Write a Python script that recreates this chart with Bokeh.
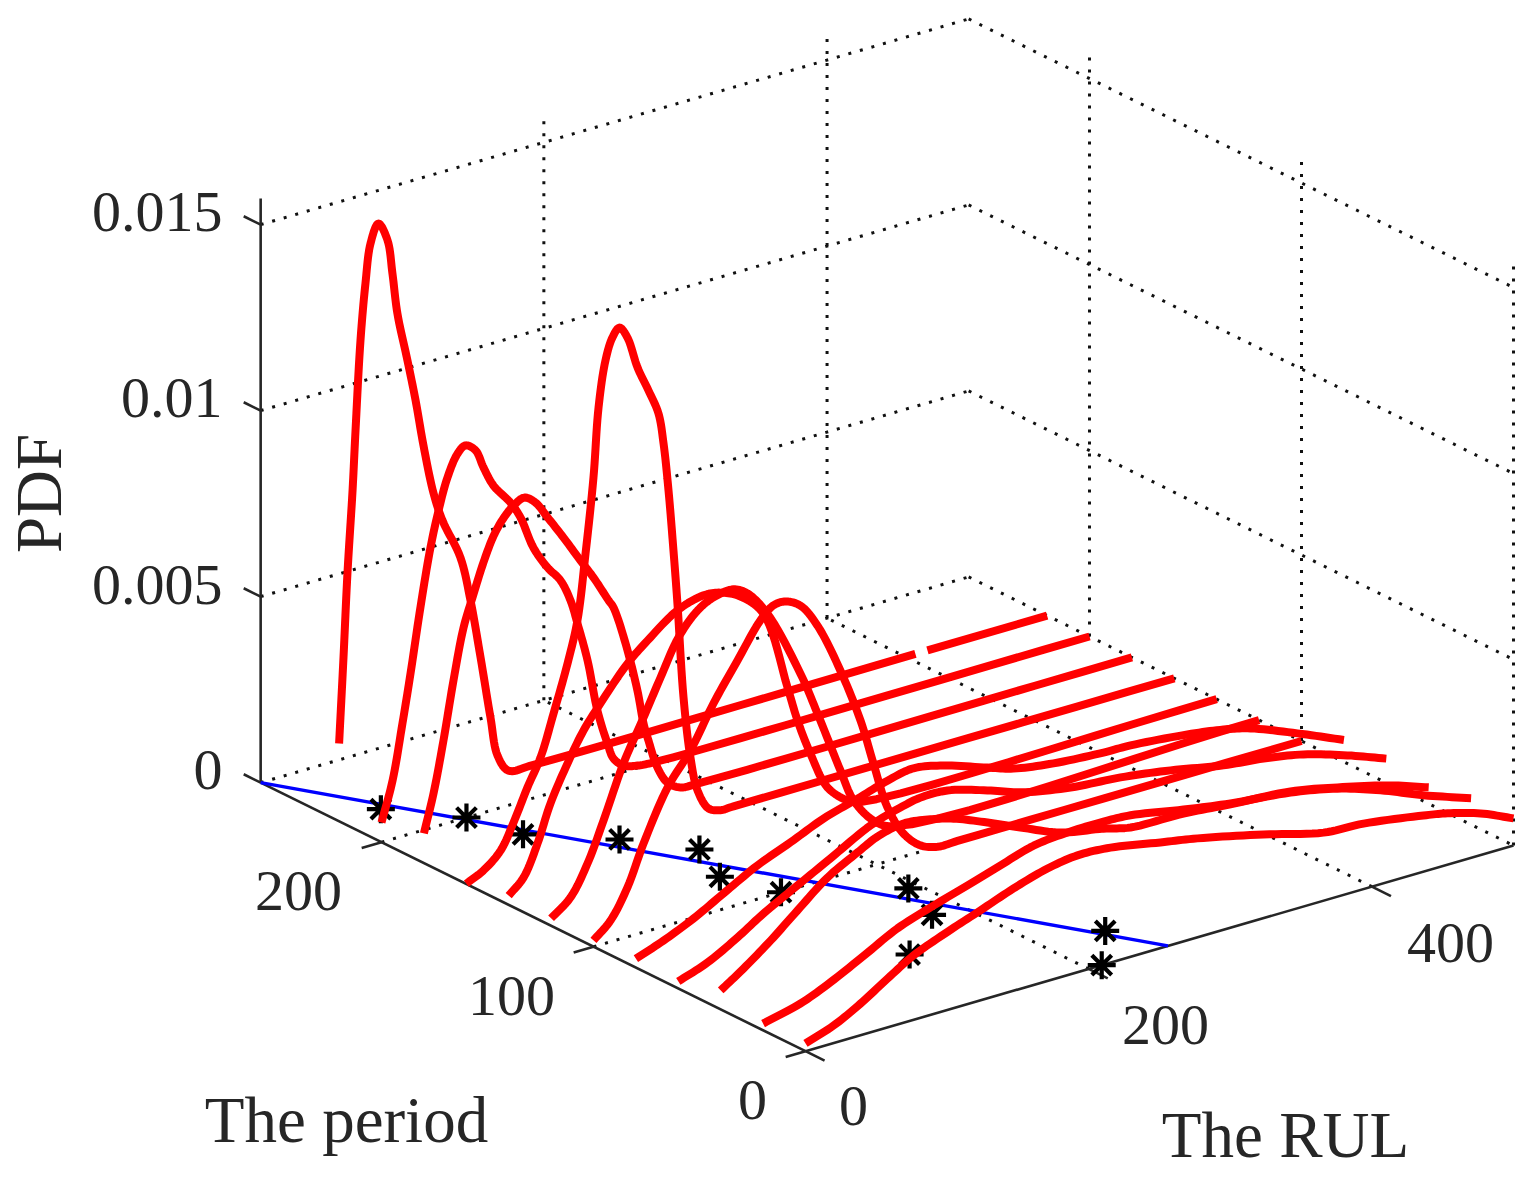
import numpy as np
from bokeh.plotting import figure
from bokeh.models import Range1d
from bokeh.core.properties import value
from bokeh.embed import file_html
from bokeh.resources import INLINE

# ---------- data (PDF values are given in units of 1e-3) ----------
periods = [220, 200, 180, 160, 140, 120, 100, 80, 60, 40, 20, 0]

rul_220 = [0, 3.1, 5.9, 9.5, 11.6, 15.1, 18.6, 22.2, 27.8, 34.2, 37.7, 41.2, 48.3, 54, 59.6, 66.7, 73, 85.7, 92.8, 99.9, 106.9, 111.9, 119.6, 137.3, 407, float("nan"), 415.5, 500]
pdf_220 = [2.09, 4.37, 6.60, 8.79, 10.38, 12.76, 14.25, 15.29, 15.76, 15.24, 14.3, 13.19, 11.85, 10.72, 9.44, 8.08, 7.28, 6.14, 4.91, 3.30, 1.61, 0.53, 0.04, 0, 0, float("nan"), 0, 0]

rul_200 = [0, 7.8, 14.8, 20.5, 27.5, 34.6, 40.3, 46.6, 53.7, 59.3, 66.4, 72, 79.1, 91.1, 98.2, 107.3, 117.2, 126.4, 133.5, 138.4, 145.5, 152.5, 159.6, 163.8, 170.9, 180.8, 192.1, 500]
pdf_200 = [0.53, 1.57, 3.03, 4.31, 6.01, 7.54, 8.47, 9.29, 9.85, 10.01, 9.80, 9.28, 8.71, 8.12, 7.64, 6.73, 6.09, 5.64, 5.02, 4.35, 3.28, 1.85, 0.89, 0.44, 0.17, 0.06, 0.02, 0]

rul_180 = [0, 6.8, 13.8, 20.9, 28, 34.3, 42.1, 49.2, 56.2, 63.3, 71, 78.8, 87.3, 98.6, 110.6, 119.8, 130.4, 133.9, 142.4, 150.8, 155.1, 158.6, 165, 172, 181.2, 193.2, 500]
pdf_180 = [0.80, 1.80, 3.14, 4.68, 6.02, 6.76, 7.62, 8.25, 8.65, 8.91, 9.04, 8.82, 8.33, 7.66, 6.91, 6.35, 5.62, 5.39, 4.33, 2.97, 2.04, 1.54, 0.74, 0.26, 0.03, 0, 0]

rul_160 = [0, 12.1, 24.2, 33.3, 43.2, 52.4, 61.6, 71.5, 78.5, 84.2, 89.8, 93.4, 98.3, 103.2, 108.2, 113.8, 120.9, 128.7, 135.7, 139.3, 142.8, 146.3, 149.2, 153.4, 158.3, 163.3, 171, 179.5, 188.7, 500]
pdf_160 = [0.01, 0.23, 0.63, 1.28, 2.12, 2.82, 3.90, 5.14, 6.22, 7.95, 9.93, 11.78, 12.99, 13.55, 13.76, 13.43, 12.55, 11.84, 11.15, 10.30, 9.0, 7.35, 5.84, 3.32, 1.65, 0.71, 0.14, 0, 0, 0]

rul_140 = [0, 10.5, 20.3, 29.5, 41.5, 52.8, 64.8, 83.9, 98, 119.2, 137.6, 149.6, 163.7, 179.9, 196.9, 204, 213.1, 225.1, 239.3, 248.4, 500]
pdf_140 = [0.25, 0.62, 1.42, 2.40, 3.34, 4.10, 4.70, 5.56, 6.02, 6.60, 6.80, 6.74, 6.48, 5.84, 3.67, 2.70, 1.71, 0.67, 0.16, 0.02, 0]

rul_120 = [0, 13.7, 25.7, 37, 51.1, 65.3, 77.3, 90, 103.4, 114.7, 128.8, 138.7, 152.8, 176.1, 188.1, 204.4, 213.6, 227.7, 241.8, 500]
pdf_120 = [0.20, 0.61, 1.39, 2.42, 3.80, 4.88, 5.82, 6.76, 7.33, 7.56, 7.62, 7.40, 6.70, 4.83, 3.63, 1.91, 1.01, 0.31, 0, 0]

rul_100 = [0, 12, 24, 35.3, 52.3, 68.5, 84.7, 101.7, 117.9, 127.1, 135.6, 146.2, 158.2, 174.4, 188.6, 197.7, 207.6, 218.9, 230.9, 242.9, 257.1, 500]
pdf_100 = [0.17, 0.57, 1.33, 2.38, 3.70, 4.52, 5.60, 6.57, 7.47, 7.77, 7.78, 7.55, 6.88, 5.49, 3.99, 2.74, 1.45, 0.62, 0.17, 0, 0, 0]

rul_80 = [0, 19.5, 40.7, 61.9, 85.9, 109.2, 132.5, 156.5, 177.7, 196, 217.2, 248.3, 266.7, 294.9, 330.2, 349.3, 389.5, 415, 434, 467.2, 500]
pdf_80 = [0.24, 0.51, 0.87, 1.31, 1.80, 2.16, 2.54, 2.81, 3.06, 3.19, 3.03, 2.63, 2.40, 2.23, 2.13, 2.11, 1.96, 1.81, 1.63, 1.13, 0.59]

rul_60 = [0, 20.6, 41.8, 60.2, 84.2, 107.5, 135.7, 156.9, 171, 190.1, 218.4, 241.7, 277, 312.3, 347.6, 385, 413.3, 441.5, 472.6, 500]
pdf_60 = [0.19, 0.47, 0.91, 1.35, 1.84, 2.31, 2.88, 3.13, 3.24, 3.22, 2.91, 2.60, 2.34, 2.22, 2.02, 1.74, 1.61, 1.41, 1.04, 0.65]

rul_40 = [0, 16.1, 35.2, 54.2, 75.4, 96.6, 110.7, 129.1, 148.2, 164.4, 188.4, 211.7, 240, 270.3, 289.4, 326.8, 360, 402.4, 435.6, 473, 500]
pdf_40 = [0.51, 0.92, 1.46, 2.06, 2.71, 3.15, 3.42, 3.57, 3.47, 3.31, 2.94, 2.55, 2.10, 1.87, 1.69, 1.65, 1.53, 1.41, 1.15, 0.79, 0.44]

rul_20 = [0, 26.4, 42.7, 68.8, 94.9, 120.3, 144.4, 167.7, 191, 215, 240.4, 259.5, 296.9, 330.1, 372.5, 405.6, 436, 466.4, 500]
pdf_20 = [0.18, 0.43, 0.68, 1.17, 1.69, 2.02, 2.30, 2.58, 2.85, 2.94, 2.95, 2.91, 2.65, 2.45, 2.27, 2.01, 1.63, 1.16, 0.71]

rul_0 = [0, 19.8, 38.8, 57.9, 76.3, 100.3, 123.6, 146.9, 170.9, 192.1, 215.4, 250.7, 276.8, 323.4, 365.8, 394.1, 436.4, 453.4, 476.7, 500]
pdf_0 = [0.21, 0.47, 0.85, 1.31, 1.73, 2.10, 2.42, 2.75, 3.02, 3.14, 3.09, 2.84, 2.66, 2.25, 1.83, 1.76, 1.51, 1.38, 1.12, 0.73]

star_period = [220, 200, 180, 160, 140, 120, 100, 80, 60, 40, 20, 0]
star_rul = [29.5, 60, 70, 108.2, 134.7, 119.2, 132.4, 192.4, 179.2, 133.4, 241.6, 209.2]

true_period = [257, 0]
true_rul = [0, 256]

period_ticks = [0, 100, 200]
rul_ticks = [0, 200, 400]
pdf_ticks = [0, 0.005, 0.01, 0.015]
period_tick_labels = ["0", "100", "200"]
rul_tick_labels = ["0", "200", "400"]
pdf_tick_labels = ["0", "0.005", "0.01", "0.015"]

curves = {
    220: (rul_220, pdf_220), 200: (rul_200, pdf_200), 180: (rul_180, pdf_180),
    160: (rul_160, pdf_160), 140: (rul_140, pdf_140), 120: (rul_120, pdf_120),
    100: (rul_100, pdf_100), 80: (rul_80, pdf_80), 60: (rul_60, pdf_60),
    40: (rul_40, pdf_40), 20: (rul_20, pdf_20), 0: (rul_0, pdf_0),
}

# ---------- axis box ----------
PERIOD_MAX, RUL_MAX, PDF_MAX = 257, 500, 0.0157


def project(period, rul, pdf):
    """Orthographic view of the 3-D box, in page pixels."""
    period = np.asarray(period, float)
    rul = np.asarray(rul, float)
    pdf = np.asarray(pdf, float)
    return (805 + 1.416 * rul - 2.12 * period,
            1050.7 - 0.4114 * rul - 1.045 * period - 37200 * pdf)


def smooth(x, y, n=10):
    """Centripetal Catmull-Rom drawing path through the read points."""
    pts = np.column_stack([x, y])
    if len(pts) < 3:
        return pts[:, 0], pts[:, 1]
    pad = np.vstack([2 * pts[0] - pts[1], pts, 2 * pts[-1] - pts[-2]])
    out = [pts[:1]]
    for i in range(1, len(pad) - 2):
        p0, p1, p2, p3 = pad[i - 1], pad[i], pad[i + 1], pad[i + 2]
        t1 = np.linalg.norm(p1 - p0) ** 0.5
        t2 = t1 + max(np.linalg.norm(p2 - p1) ** 0.5, 1e-6)
        t3 = t2 + np.linalg.norm(p3 - p2) ** 0.5
        t = np.linspace(t1, t2, n + 1)[1:, None]
        a1 = ((t1 - t) * p0 + t * p1) / t1 if t1 > 0 else p1 + 0 * t
        a2 = ((t2 - t) * p1 + (t - t1) * p2) / (t2 - t1)
        a3 = ((t3 - t) * p2 + (t - t2) * p3) / (t3 - t2) if t3 > t2 else p2 + 0 * t
        b1 = ((t2 - t) * a1 + (t - 0) * a2) / t2
        b2 = ((t3 - t) * a2 + (t - t1) * a3) / (t3 - t1)
        out.append(((t2 - t) * b1 + (t - t1) * b2) / (t2 - t1))
    res = np.vstack(out)
    return res[:, 0], res[:, 1]


p = figure(width=1520, height=1173, output_backend="svg", toolbar_location=None,
           x_range=Range1d(0, 1520), y_range=Range1d(1173, 0),
           min_border=0, outline_line_color=None, background_fill_color="white")
p.xaxis.visible = False
p.yaxis.visible = False
p.xgrid.visible = False
p.ygrid.visible = False


def seg(p0, p1, **kw):
    x0, y0 = project(*p0)
    x1, y1 = project(*p1)
    p.line([float(x0), float(x1)], [float(y0), float(y1)], **kw)


dots = dict(line_color="#111111", line_width=3, line_dash="3 9")
axis_style = dict(line_color="#262626", line_width=2.6)

# grid on the walls
for z in pdf_ticks:
    seg((PERIOD_MAX, 0, z), (PERIOD_MAX, RUL_MAX, z), **dots)
    seg((PERIOD_MAX, RUL_MAX, z), (0, RUL_MAX, z), **dots)
for r in rul_ticks[1:]:
    seg((PERIOD_MAX, r, 0), (PERIOD_MAX, r, PDF_MAX), **dots)
for t in period_ticks:
    seg((t, RUL_MAX, 0), (t, RUL_MAX, PDF_MAX), **dots)
# grid on the floor
for r in rul_ticks[1:]:
    seg((0, r, 0), (PERIOD_MAX, r, 0), **dots)
for t in period_ticks[1:]:
    seg((t, 0, 0), (t, RUL_MAX, 0), **dots)

# axes and ticks
seg((0, 0, 0), (PERIOD_MAX, 0, 0), **axis_style)
seg((0, 0, 0), (0, RUL_MAX, 0), **axis_style)
seg((PERIOD_MAX, 0, 0), (PERIOD_MAX, 0, PDF_MAX), **axis_style)
for t in period_ticks:
    seg((t, 0, 0), (t, -14, 0), **axis_style)
for r in rul_ticks:
    seg((0, r, 0), (-9, r, 0), **axis_style)
for z in pdf_ticks:
    seg((PERIOD_MAX, 0, z), (PERIOD_MAX + 8, 0, z), **axis_style)

# true RUL line and stars
bx, by = project(true_period, true_rul, [0, 0])
p.line(bx, by, line_color="#0000ff", line_width=3.4)
sx, sy = project(star_period, star_rul, np.zeros(len(star_rul)))
p.scatter(sx, sy, marker="asterisk", size=28, line_color="black", line_width=4.2)

# predicted PDF curves
for t in periods:
    r, z = curves[t]
    x, y = project(np.full(len(r), t), r, np.asarray(z) * 1e-3)
    parts = np.split(np.arange(len(x)), np.where(np.isnan(x))[0])
    for part in parts:
        part = part[~np.isnan(x[part])]
        if len(part) > 1:
            xs, ys = smooth(x[part], y[part])
            p.line(xs, ys, line_color="#ff0000", line_width=8, line_join="round", line_cap="butt")

# texts
font = value("Liberation Serif")
tick_style = dict(text_font=font, text_font_size="58px", text_color="#262626", text_baseline="middle")


def label(x, y, s, align="center", angle=0, style=tick_style, **kw):
    p.text([x], [y], text=[s], text_align=align, angle=angle, **style, **kw)


for s, (x, y) in zip(period_tick_labels, [(752, 1099), (511, 995), (298, 890)]):
    label(x, y, s)
for s, (x, y) in zip(rul_tick_labels, [(853, 1105), (1165, 1024), (1450, 942)]):
    label(x, y, s)
for s, y in zip(pdf_tick_labels, [769, 584, 397, 211]):
    label(222, y, s, align="right")

title_style = dict(text_font=font, text_font_size="65px", text_color="#262626", text_baseline="middle")
label(346, 1119, "The period", style=title_style)
label(1285, 1134, "The RUL", style=title_style)
label(38, 493, "PDF", angle=np.pi / 2, style=title_style)

open("out.html", "w").write(file_html(p, INLINE))
